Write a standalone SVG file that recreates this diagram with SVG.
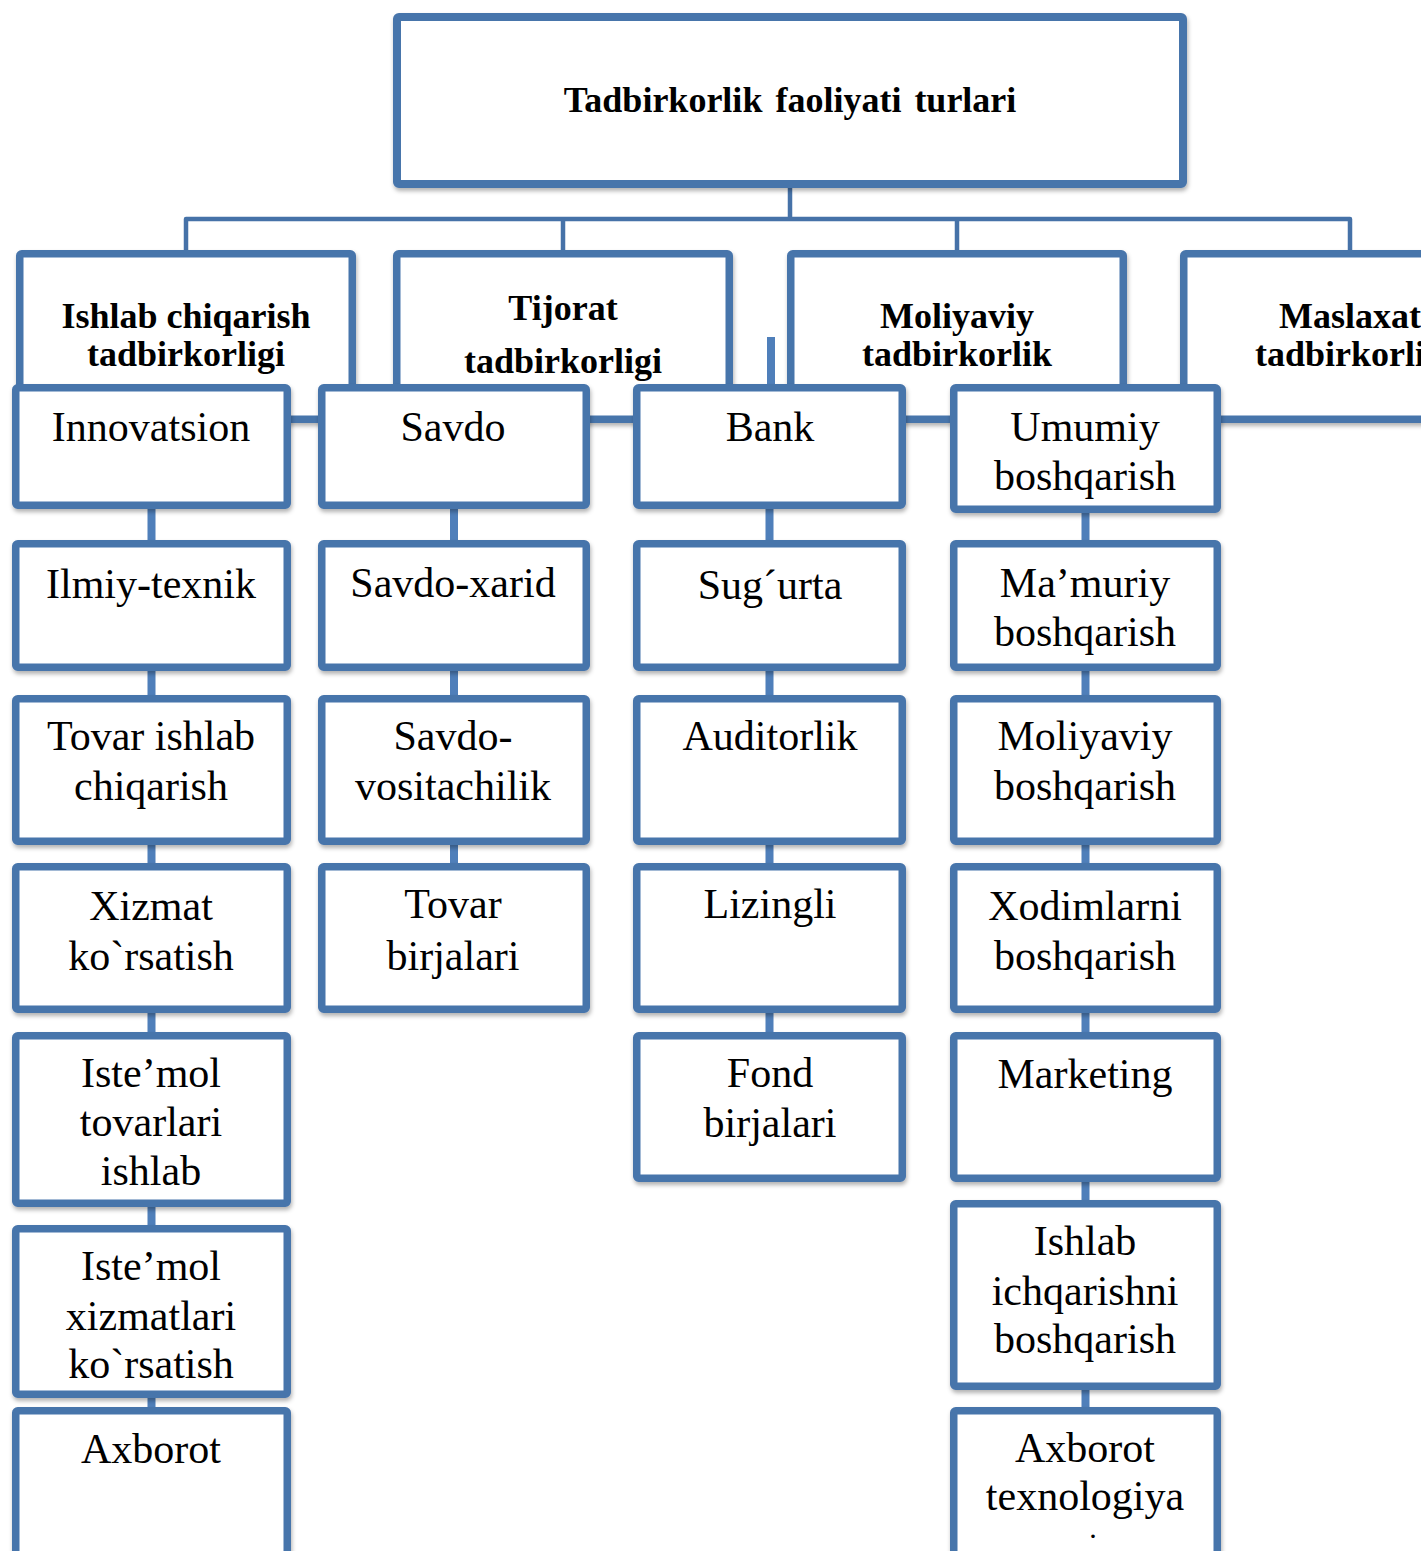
<svg xmlns="http://www.w3.org/2000/svg" width="1421" height="1551" viewBox="0 0 1421 1551">
  <defs>
    <filter id="shadow" x="-5%" y="-5%" width="115%" height="115%">
      <feDropShadow dx="1" dy="3" stdDeviation="2" flood-color="#000" flood-opacity="0.3"/>
    </filter>
    <style>
      .box { fill: #fff; stroke: #4774AB; stroke-width: 7.5; filter: url(#shadow); }
      .root { fill: #fff; stroke: #4774AB; stroke-width: 8; filter: url(#shadow); }
      .tree { fill: none; stroke: #4672A8; stroke-width: 4.5; stroke-linejoin: round; }
      .link { fill: none; stroke: #4F7FBA; stroke-width: 8; }
      .hd { font-family: "Liberation Serif", "Times New Roman", serif; font-weight: bold; font-size: 36px; fill: #000; text-anchor: middle; }
      .tt { font-family: "Liberation Serif", "Times New Roman", serif; font-weight: bold; font-size: 36px; fill: #000; text-anchor: middle; word-spacing: 4px; }
      .lb { font-family: "Liberation Serif", "Times New Roman", serif; font-size: 42px; fill: #000; text-anchor: middle; }
      .dot { font-family: "Liberation Serif", "Times New Roman", serif; font-size: 30px; fill: #000; text-anchor: middle; }
    </style>
  </defs>
  <rect width="1421" height="1551" fill="#fff"/>

  <!-- root-to-category tree -->
  <g id="connectors">
    <path class="tree" d="M790 188 V219 M186 250 V219 H1350 V250 M563 219 V250 M957 219 V250"/>
  </g>

  <!-- root -->
  <g id="root">
    <rect class="root" x="397" y="17" width="786" height="167" rx="2"/>
    <text class="tt" x="790" y="112">Tadbirkorlik faoliyati turlari</text>
  </g>

  <!-- category headers -->
  <g id="cat-ishlab">
    <rect class="box" x="19.75" y="253.75" width="332.5" height="165.5" rx="2"/>
    <text class="hd" x="186" y="328">Ishlab chiqarish</text>
    <text class="hd" x="186" y="366">tadbirkorligi</text>
  </g>
  <g id="cat-tijorat">
    <rect class="box" x="396.75" y="253.75" width="332.5" height="165.5" rx="2"/>
    <text class="hd" x="563" y="320">Tijorat</text>
    <text class="hd" x="563" y="373">tadbirkorligi</text>
  </g>
  <g id="cat-moliyaviy">
    <rect class="box" x="790.75" y="253.75" width="332.5" height="165.5" rx="2"/>
    <text class="hd" x="957" y="328">Moliyaviy</text>
    <text class="hd" x="957" y="366">tadbirkorlik</text>
  </g>
  <g id="cat-maslaxat">
    <rect class="box" x="1183.75" y="253.75" width="332.5" height="165.5" rx="2"/>
    <text class="hd" x="1350" y="328">Maslaxat</text>
    <text class="hd" x="1350" y="366">tadbirkorlik</text>
  </g>

  <!-- column links -->
  <g id="column-links">
    <path class="link" d="M151.5 509 V540 M151.5 671 V695 M151.5 845 V863 M151.5 1013 V1032 M151.5 1207 V1225 M151.5 1398 V1407"/>
    <path class="link" d="M454 509 V540 M454 671 V695 M454 845 V863"/>
    <path class="link" d="M769.5 509 V540 M769.5 671 V695 M769.5 845 V863 M769.5 1013 V1032 M771 337 V384"/>
    <path class="link" d="M1085.5 513 V540 M1085.5 671 V695 M1085.5 845 V863 M1085.5 1013 V1032 M1085.5 1182 V1200 M1085.5 1390 V1407"/>
  </g>

  <!-- column 1 -->
  <g id="innovatsion">
    <rect class="box" x="15.75" y="387.75" width="271.5" height="117.5" rx="2"/>
    <text class="lb" x="151" y="441">Innovatsion</text>
  </g>
  <g id="ilmiy-texnik">
    <rect class="box" x="15.75" y="543.75" width="271.5" height="123.5" rx="2"/>
    <text class="lb" x="151" y="598">Ilmiy-texnik</text>
  </g>
  <g id="tovar-ishlab">
    <rect class="box" x="15.75" y="698.75" width="271.5" height="142.5" rx="2"/>
    <text class="lb" x="151" y="750">Tovar ishlab</text>
    <text class="lb" x="151" y="800">chiqarish</text>
  </g>
  <g id="xizmat">
    <rect class="box" x="15.75" y="866.75" width="271.5" height="142.5" rx="2"/>
    <text class="lb" x="151" y="920">Xizmat</text>
    <text class="lb" x="151" y="970">ko`rsatish</text>
  </g>
  <g id="istemol-tovarlari">
    <rect class="box" x="15.75" y="1035.75" width="271.5" height="167.5" rx="2"/>
    <text class="lb" x="151" y="1087">Iste’mol</text>
    <text class="lb" x="151" y="1136">tovarlari</text>
    <text class="lb" x="151" y="1185">ishlab</text>
  </g>
  <g id="istemol-xizmatlari">
    <rect class="box" x="15.75" y="1228.75" width="271.5" height="165.5" rx="2"/>
    <text class="lb" x="151" y="1280">Iste’mol</text>
    <text class="lb" x="151" y="1330">xizmatlari</text>
    <text class="lb" x="151" y="1378">ko`rsatish</text>
  </g>
  <g id="axborot">
    <rect class="box" x="15.75" y="1410.75" width="271.5" height="200" rx="2"/>
    <text class="lb" x="151" y="1463">Axborot</text>
  </g>

  <!-- column 2 -->
  <g id="savdo">
    <rect class="box" x="321.75" y="387.75" width="264.5" height="117.5" rx="2"/>
    <text class="lb" x="453" y="441">Savdo</text>
  </g>
  <g id="savdo-xarid">
    <rect class="box" x="321.75" y="543.75" width="264.5" height="123.5" rx="2"/>
    <text class="lb" x="453" y="597">Savdo-xarid</text>
  </g>
  <g id="savdo-vositachilik">
    <rect class="box" x="321.75" y="698.75" width="264.5" height="142.5" rx="2"/>
    <text class="lb" x="453" y="750">Savdo-</text>
    <text class="lb" x="453" y="800">vositachilik</text>
  </g>
  <g id="tovar-birjalari">
    <rect class="box" x="321.75" y="866.75" width="264.5" height="142.5" rx="2"/>
    <text class="lb" x="453" y="918">Tovar</text>
    <text class="lb" x="453" y="970">birjalari</text>
  </g>

  <!-- column 3 -->
  <g id="bank">
    <rect class="box" x="636.75" y="387.75" width="265.5" height="117.5" rx="2"/>
    <text class="lb" x="770" y="441">Bank</text>
  </g>
  <g id="sugurta">
    <rect class="box" x="636.75" y="543.75" width="265.5" height="123.5" rx="2"/>
    <text class="lb" x="770" y="599">Sug´urta</text>
  </g>
  <g id="auditorlik">
    <rect class="box" x="636.75" y="698.75" width="265.5" height="142.5" rx="2"/>
    <text class="lb" x="770" y="750">Auditorlik</text>
  </g>
  <g id="lizingli">
    <rect class="box" x="636.75" y="866.75" width="265.5" height="142.5" rx="2"/>
    <text class="lb" x="770" y="918">Lizingli</text>
  </g>
  <g id="fond-birjalari">
    <rect class="box" x="636.75" y="1035.75" width="265.5" height="142.5" rx="2"/>
    <text class="lb" x="770" y="1087">Fond</text>
    <text class="lb" x="770" y="1137">birjalari</text>
  </g>

  <!-- column 4 -->
  <g id="umumiy">
    <rect class="box" x="953.75" y="387.75" width="263.5" height="121.5" rx="2"/>
    <text class="lb" x="1085" y="441">Umumiy</text>
    <text class="lb" x="1085" y="490">boshqarish</text>
  </g>
  <g id="mamuriy">
    <rect class="box" x="953.75" y="543.75" width="263.5" height="123.5" rx="2"/>
    <text class="lb" x="1085" y="597">Ma’muriy</text>
    <text class="lb" x="1085" y="646">boshqarish</text>
  </g>
  <g id="moliyaviy-boshqarish">
    <rect class="box" x="953.75" y="698.75" width="263.5" height="142.5" rx="2"/>
    <text class="lb" x="1085" y="750">Moliyaviy</text>
    <text class="lb" x="1085" y="800">boshqarish</text>
  </g>
  <g id="xodimlarni">
    <rect class="box" x="953.75" y="866.75" width="263.5" height="142.5" rx="2"/>
    <text class="lb" x="1085" y="920">Xodimlarni</text>
    <text class="lb" x="1085" y="970">boshqarish</text>
  </g>
  <g id="marketing">
    <rect class="box" x="953.75" y="1035.75" width="263.5" height="142.5" rx="2"/>
    <text class="lb" x="1085" y="1088">Marketing</text>
  </g>
  <g id="ishlab-boshqarish">
    <rect class="box" x="953.75" y="1203.75" width="263.5" height="182.5" rx="2"/>
    <text class="lb" x="1085" y="1255">Ishlab</text>
    <text class="lb" x="1085" y="1305">ichqarishni</text>
    <text class="lb" x="1085" y="1353">boshqarish</text>
  </g>
  <g id="axborot-texnologiya">
    <rect class="box" x="953.75" y="1410.75" width="263.5" height="200" rx="2"/>
    <text class="lb" x="1085" y="1462">Axborot</text>
    <text class="lb" x="1085" y="1510">texnologiya</text>
    <text class="dot" x="1093" y="1538">.</text>
  </g>
</svg>
